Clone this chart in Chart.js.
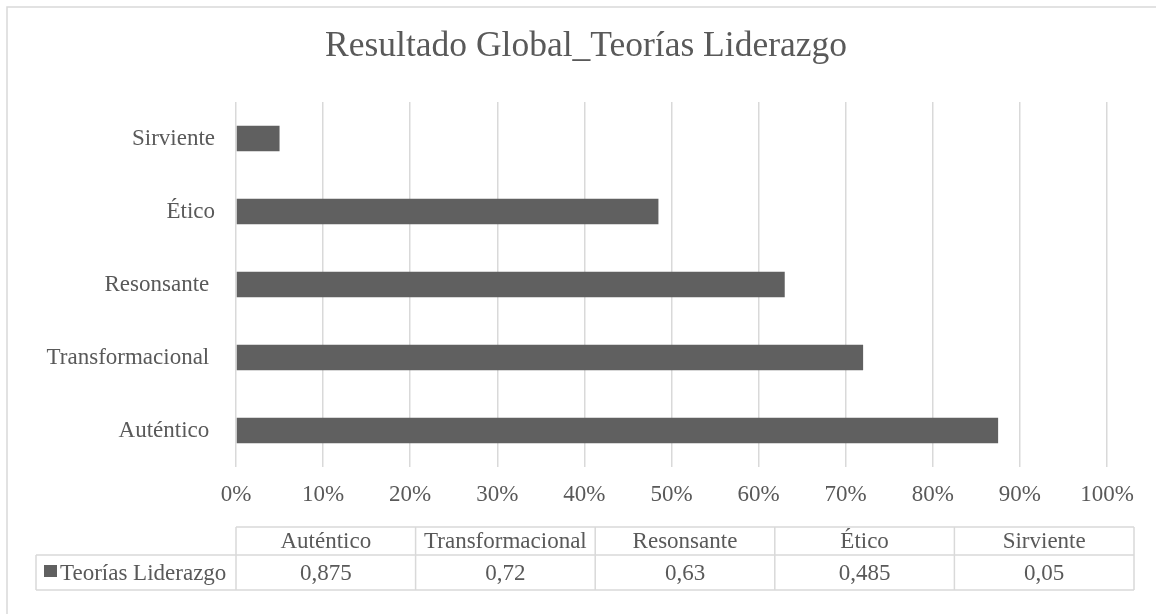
<!DOCTYPE html>
<html>
<head>
<meta charset="utf-8">
<script src="https://cdn.jsdelivr.net/npm/chart.js@4.4.0/dist/chart.umd.min.js"></script>
<style>
    html, body { margin: 0; padding: 0; background: #fff; }
    #wrap { width: 1156px; height: 614px; }
</style>
</head>
<body>
<div id="wrap"><canvas id="barChart"></canvas></div>
<script>
// data, in table order (first one is drawn at the bottom)
var categories = ['Auténtico', 'Transformacional', 'Resonsante', 'Ético', 'Sirviente'];
var axisLabels = ['Auténtico ', 'Transformacional ', 'Resonsante ', 'Ético', 'Sirviente'];
var values = [0.875, 0.72, 0.63, 0.485, 0.05];
var seriesName = 'Teorías Liderazgo';
var xTickLabels = ['0%', '10%', '20%', '30%', '40%', '50%', '60%', '70%', '80%', '90%', '100%'];
var chartTitle = 'Resultado Global_Teorías Liderazgo';

var FONT = "'Liberation Serif', 'Times New Roman', serif";
var TEXT = '#595959';
var LINE = '#d9d9d9';
var BAR = '#606060';

function fmt(v) {
    return String(v).replace('.', ',');
}

// outer frame of the chart (right and bottom edges fall outside the picture)
var framePlugin = {
    id: 'frame',
    afterLayout: function (chart) {
        // title in the original sits a bit right of the canvas centre
        chart.titleBlock.left = 65;
    },
    beforeDraw: function (chart) {
        var ctx = chart.ctx;
        ctx.save();
        ctx.strokeStyle = LINE;
        ctx.lineWidth = 1.5;
        ctx.beginPath();
        ctx.moveTo(7, chart.height);
        ctx.lineTo(7, 7);
        ctx.lineTo(chart.width, 7);
        ctx.stroke();
        ctx.restore();
    }
};

// data table under the axis
var tablePlugin = {
    id: 'dataTable',
    afterDraw: function (chart) {
        var ctx = chart.ctx;
        var left = chart.chartArea.left;
        var right = 1134;
        var keyLeft = 36;
        var top = 527, mid = 555, bottom = 590;
        var colW = (right - left) / categories.length;

        ctx.save();
        ctx.strokeStyle = LINE;
        ctx.lineWidth = 1.5;
        ctx.beginPath();
        ctx.moveTo(left, top); ctx.lineTo(right, top);
        ctx.moveTo(keyLeft, mid); ctx.lineTo(right, mid);
        ctx.moveTo(keyLeft, bottom); ctx.lineTo(right, bottom);
        ctx.moveTo(keyLeft, mid); ctx.lineTo(keyLeft, bottom);
        for (var i = 0; i <= categories.length; i++) {
            var x = left + i * colW;
            ctx.moveTo(x, top); ctx.lineTo(x, bottom);
        }
        ctx.stroke();

        ctx.fillStyle = TEXT;
        ctx.font = '23px ' + FONT;
        ctx.textAlign = 'center';
        ctx.textBaseline = 'middle';
        categories.forEach(function (c, i) {
            var cx = left + (i + 0.5) * colW;
            ctx.fillText(c, cx, (top + mid) / 2 + 1);
            ctx.fillText(fmt(values[i]), cx, (mid + bottom) / 2 + 1);
        });

        // legend key + series name
        ctx.fillStyle = BAR;
        ctx.fillRect(44, 565, 13, 12);
        ctx.fillStyle = TEXT;
        ctx.textAlign = 'left';
        ctx.fillText(seriesName, 60, (mid + bottom) / 2 + 1);
        ctx.restore();
    }
};

var ctx = document.getElementById('barChart').getContext('2d');
var chart = new Chart(ctx, {
    type: 'bar',
    data: {
        labels: axisLabels,
        datasets: [{
            label: seriesName,
            data: values,
            backgroundColor: BAR,
            borderWidth: 0,
            barPercentage: 0.35,
            categoryPercentage: 1
        }]
    },
    options: {
        indexAxis: 'y',
        responsive: true,
        maintainAspectRatio: false,
        animation: false,
        layout: {
            padding: { left: 16, right: 49, top: 0, bottom: 0 }
        },
        plugins: {
            legend: { display: false },
            tooltip: { enabled: false },
            title: {
                display: true,
                text: chartTitle,
                color: TEXT,
                font: { family: FONT, size: 35.5, weight: 'normal' },
                padding: { top: 25, bottom: 34.5 }
            }
        },
        scales: {
            x: {
                min: 0,
                max: 1,
                ticks: {
                    stepSize: 0.1,
                    color: TEXT,
                    font: { family: FONT, size: 23 },
                    padding: 14,
                    callback: function (v, i) { return xTickLabels[i]; }
                },
                grid: { color: LINE, lineWidth: 1.5, drawTicks: false },
                border: { display: false },
                afterFit: function (scale) { scale.height = 147; }
            },
            y: {
                reverse: true,
                ticks: {
                    color: TEXT,
                    font: { family: FONT, size: 23 },
                    padding: 21
                },
                grid: { display: false, drawTicks: false },
                border: { display: false },
                afterFit: function (scale) { scale.width = 220; }
            }
        }
    },
    plugins: [framePlugin, tablePlugin]
});
</script>
</body>
</html>
